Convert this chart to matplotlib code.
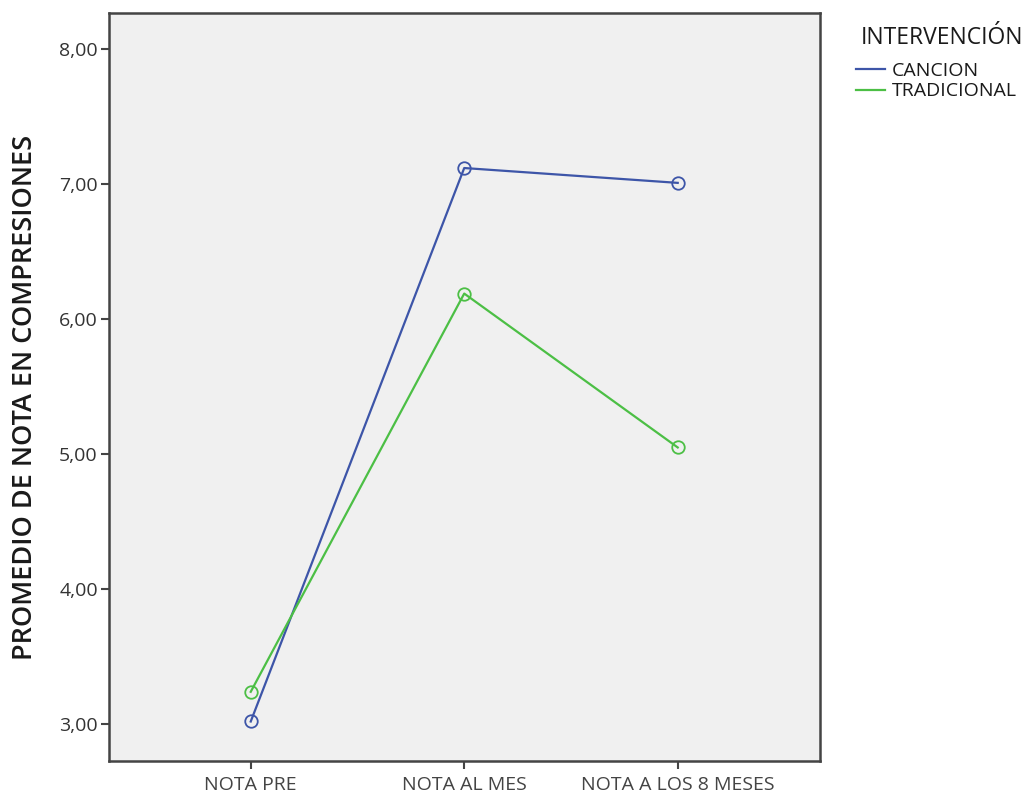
import matplotlib
matplotlib.use("Agg")
import matplotlib.pyplot as plt
from matplotlib.ticker import FuncFormatter

categorias = ["NOTA PRE", "NOTA AL MES", "NOTA A LOS 8 MESES"]
cancion = [3.02, 7.12, 7.01]
tradicional = [3.24, 6.19, 5.05]
y_ticks = [3, 4, 5, 6, 7, 8]

plt.rcParams['font.family'] = ['Open Sans', 'DejaVu Sans']

fig = plt.figure(figsize=(10.28, 7.99), dpi=100)
ax = fig.add_axes([0.106, 0.048, 0.692, 0.936])
ax.set_facecolor("#f0f0f0")

x = range(len(categorias))
ax.plot(x, cancion, color="#3d55a8", lw=1.6, marker="o", ms=9,
        mfc="none", mec="#3d55a8", mew=1.3, label="CANCION")
ax.plot(x, tradicional, color="#4cbf45", lw=1.6, marker="o", ms=9,
        mfc="none", mec="#4cbf45", mew=1.3, label="TRADICIONAL")

ax.set_xlim(-0.664, 2.668)
ax.set_ylim(2.73, 8.27)
ax.set_xticks(list(x))
ax.set_xticklabels(categorias, fontsize=14, color="#1a1a1a")
ax.set_yticks(y_ticks)
ax.yaxis.set_major_formatter(FuncFormatter(lambda v, p: f"{v:.2f}".replace(".", ",")))
ax.tick_params(axis="y", labelsize=14, colors="#444444", labelcolor="#333333",
               length=6, width=1.5, pad=2)
ax.tick_params(axis="x", length=6, width=1.5, colors="#444444", pad=5)
for s in ax.spines.values():
    s.set_color("#444444")
    s.set_linewidth(1.8)

ax.set_ylabel("PROMEDIO DE NOTA EN COMPRESIONES", fontsize=19.5, fontweight="semibold",
              color="#1a1a1a")
ax.yaxis.set_label_coords(-0.099, 0.485)

fig.text(861 / 1028, 1 - 38 / 799, "INTERVENCIÓN", fontsize=16.5,
         color="#1a1a1a", va="center", ha="left")
leg = fig.legend(handles=ax.get_lines(), loc="upper left",
                 bbox_to_anchor=(856 / 1028, 1 - 62 / 799), frameon=False,
                 fontsize=14, handlelength=1.5,
                 handletextpad=0.35, labelspacing=0.12, borderaxespad=0,
                 borderpad=0)
for t in leg.get_texts():
    t.set_color("#1a1a1a")
for line in leg.get_lines():
    line.set_marker("")

plt.savefig("out.png", dpi=100)
